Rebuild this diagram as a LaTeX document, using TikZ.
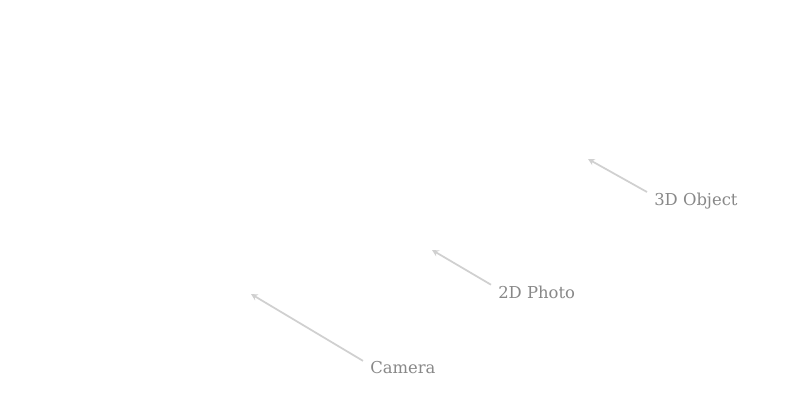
\documentclass[tikz,border=0pt]{standalone}
\usepackage{fontspec}
\setmainfont{DejaVu Serif}
\usetikzlibrary{arrows.meta}
\definecolor{labelgray}{HTML}{888888}
\definecolor{arrowgray}{HTML}{D0D0D0}
\begin{document}
\begin{tikzpicture}[x=0.75pt,y=-0.75pt,
  lbl/.style={anchor=west,inner xsep=5.25pt,inner ysep=0.5pt,text=labelgray,font=\fontsize{12.3pt}{14pt}\selectfont},
  pointer/.style={draw=arrowgray,line width=1.3pt,-{Stealth[length=5pt,width=5pt]}}]
\useasboundingbox[fill=white] (0,0) rectangle (800,400);
\node[lbl] (cam) at (363,368) {Camera};
\node[lbl] (photo) at (491,292) {2D Photo};
\node[lbl] (obj) at (647,201) {3D Object};
\coordinate (camT) at (251,294);
\coordinate (photoT) at (432,250);
\coordinate (objT) at (588,159);
\draw[pointer] (cam.north west) -- (camT);
\draw[pointer] (photo.north west) -- (photoT);
\draw[pointer] (obj.north west) -- (objT);
\end{tikzpicture}
\end{document}
